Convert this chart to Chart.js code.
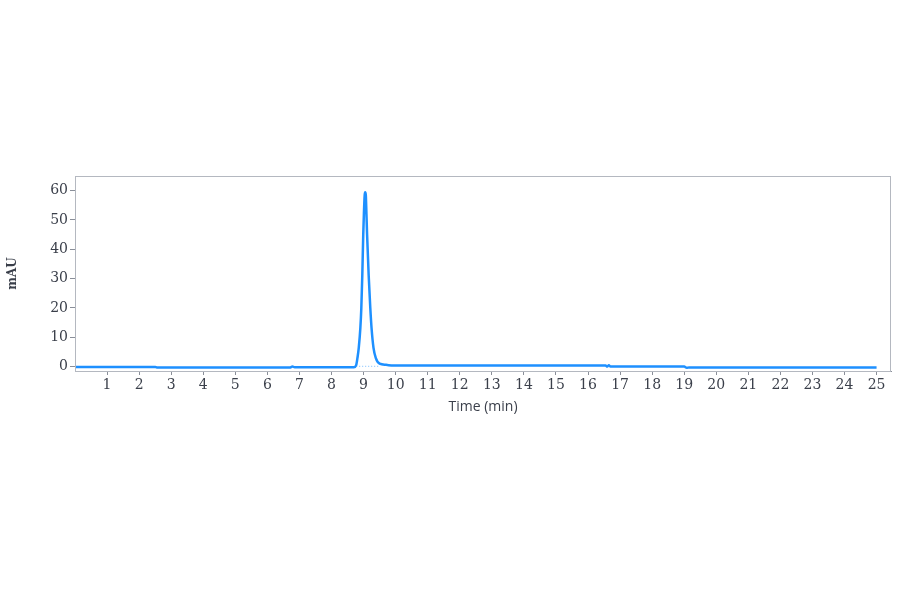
<!DOCTYPE html>
<html>
<head>
<meta charset="utf-8">
<script src="https://cdn.jsdelivr.net/npm/chart.js@4/dist/chart.umd.min.js"></script>
<style>
  html, body { margin: 0; padding: 0; background: #ffffff; }
  #wrap { width: 900px; height: 594px; }
</style>
</head>
<body>
<div id="wrap"><canvas id="chromChart" width="900" height="594"></canvas></div>
<script>
// retention time (min) and absorbance (mAU)
const times = [0, 2.5, 2.55, 6.7, 6.78, 6.85, 8.7, 8.77, 8.81, 8.85, 8.9, 8.93, 8.96, 8.99, 9.01, 9.035, 9.05,
    9.07, 9.09, 9.11, 9.16, 9.21, 9.25, 9.31, 9.38, 9.5, 9.7, 9.93, 16.55, 16.6, 16.65, 16.7, 19.0, 19.08, 19.15, 25];
const mau = [-0.1, -0.1, -0.3, -0.3, 0.0, -0.2, -0.2, 0.5, 3, 6.4, 13.2, 20, 31, 45, 52, 58.5, 59.5,
    58.5, 52, 45, 31, 20, 13, 6.4, 3, 1, 0.6, 0.35, 0.35, 0.0, 0.5, 0.0, 0.0, -0.4, -0.3, -0.3];

// integration baseline under the peak
const baseTimes = [8.77, 9.52];
const baseMau = [0.1, 0.1];

const xTicks = [1, 2, 3, 4, 5, 6, 7, 8, 9, 10, 11, 12, 13, 14, 15, 16, 17, 18, 19, 20, 21, 22, 23, 24, 25];
const yTicks = [0, 10, 20, 30, 40, 50, 60];

const traceColor = 'rgb(30, 144, 255)';
const tickFont = { family: 'DejaVu Serif', size: 14 };

const frameBox = {
    id: 'frameBox',
    afterDraw(chart) {
        const a = chart.chartArea;
        const c = chart.ctx;
        c.save();
        c.strokeStyle = '#b4b8c0';
        c.lineWidth = 1;
        c.strokeRect(a.left + 0.5, a.top + 0.5, a.right - a.left - 1, a.bottom - a.top);
        c.restore();
    }
};

const ctx = document.getElementById('chromChart').getContext('2d');
const chromChart = new Chart(ctx, {
    type: 'line',
    data: {
        datasets: [{
            label: 'trace',
            data: times.map((t, i) => ({ x: t, y: mau[i] })),
            borderColor: traceColor,
            borderWidth: 2.5,
            pointRadius: 0,
            cubicInterpolationMode: 'monotone',
            fill: false
        }, {
            label: 'baseline',
            data: baseTimes.map((t, i) => ({ x: t, y: baseMau[i] })),
            borderColor: 'rgba(30, 144, 255, 0.6)',
            borderWidth: 1,
            borderDash: [1, 2],
            pointRadius: 0,
            fill: false
        }]
    },
    options: {
        responsive: false,
        animation: false,
        layout: { padding: { top: 176, right: 9, left: 0, bottom: 178 } },
        plugins: {
            legend: { display: false },
            tooltip: { enabled: false }
        },
        scales: {
            x: {
                type: 'linear',
                min: 0,
                max: 25.45,
                afterBuildTicks: (scale) => { scale.ticks = xTicks.map(v => ({ value: v })); },
                afterFit: (scale) => { scale.height = 45; },
                grid: { drawOnChartArea: false, drawTicks: true, tickLength: 4, color: '#8a8f99' },
                border: { color: '#8a8f99' },
                ticks: { font: tickFont, color: '#3a3f4a', padding: 2, maxRotation: 0, autoSkip: false },
                title: {
                    display: true,
                    text: 'Time (min)',
                    font: { family: 'Open Sans', size: 14 },
                    color: '#3a3f4a',
                    padding: { top: 0, bottom: 1 }
                }
            },
            y: {
                type: 'linear',
                min: -1.5,
                max: 65,
                afterBuildTicks: (scale) => { scale.ticks = yTicks.map(v => ({ value: v })); },
                afterFit: (scale) => { scale.width = 75; },
                grid: { drawOnChartArea: false, drawTicks: true, tickLength: 5, color: '#8a8f99' },
                border: { color: '#8a8f99' },
                ticks: { font: tickFont, color: '#3a3f4a', padding: 2 },
                title: {
                    display: true,
                    text: 'mAU',
                    font: { family: 'DejaVu Serif', size: 12, weight: 'bold' },
                    color: '#3a3f4a',
                    padding: { top: 6, bottom: 0 }
                }
            }
        }
    },
    plugins: [frameBox]
});
</script>
</body>
</html>
